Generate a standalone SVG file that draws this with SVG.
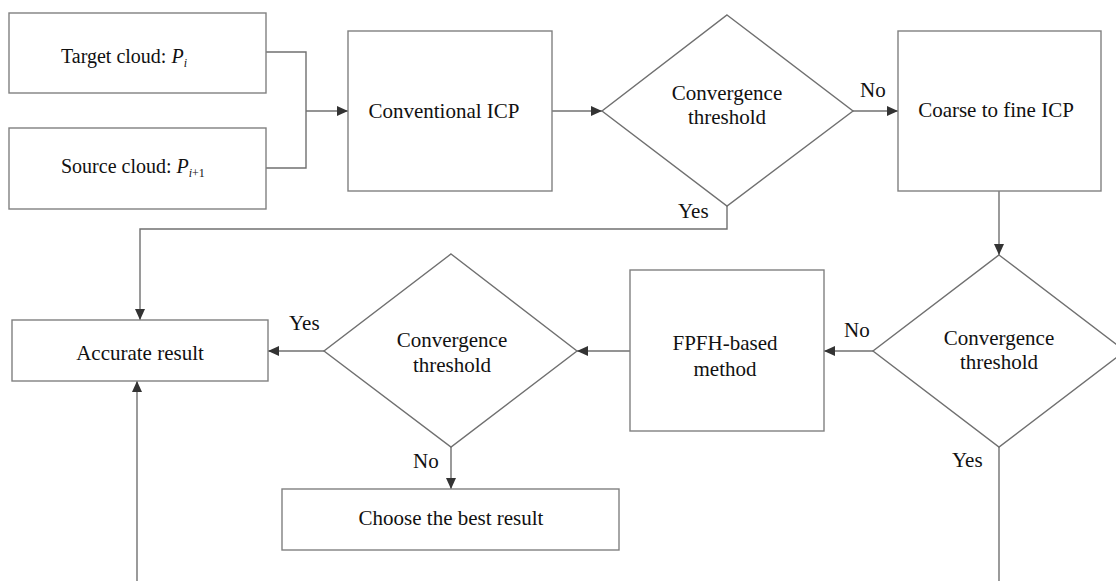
<svg xmlns="http://www.w3.org/2000/svg" width="1116" height="581" viewBox="0 0 1116 581">
<style>
.box{fill:#fff;stroke:#808080;stroke-width:1.4}
.dia{fill:#fff;stroke:#707070;stroke-width:1.4}
.ln{fill:none;stroke:#707070;stroke-width:1.4}
.t{font-family:"Liberation Serif","Times New Roman",serif;font-size:21px;fill:#111}
.s{font-size:20px}
.m{text-anchor:middle}
</style>
<defs>
<marker id="ah" markerUnits="userSpaceOnUse" markerWidth="11" markerHeight="10" refX="11" refY="5" orient="auto">
<path d="M0,0 L11,5 L0,10 Z" fill="#333"/>
</marker>
</defs>
<rect width="1116" height="581" fill="#fff"/>
<g id="connectors">
<path class="ln" d="M266,52 H306 V168 H266"/>
<path class="ln" d="M306,111 H348" marker-end="url(#ah)"/>
<path class="ln" d="M552,111 H602" marker-end="url(#ah)"/>
<path class="ln" d="M853,111 H898" marker-end="url(#ah)"/>
<path class="ln" d="M727,206 V229 H140 V320" marker-end="url(#ah)"/>
<path class="ln" d="M999,191 V255" marker-end="url(#ah)"/>
<path class="ln" d="M873,351 H824" marker-end="url(#ah)"/>
<path class="ln" d="M630,351 H577" marker-end="url(#ah)"/>
<path class="ln" d="M324,351 H268" marker-end="url(#ah)"/>
<path class="ln" d="M451,447 V489" marker-end="url(#ah)"/>
<path class="ln" d="M999,447 V581"/>
<path class="ln" d="M137,581 V381" marker-end="url(#ah)"/>
<text class="t" x="860" y="97">No</text>
<text class="t" x="678" y="218">Yes</text>
<text class="t" x="844" y="337">No</text>
<text class="t" x="952" y="467">Yes</text>
<text class="t" x="289" y="330">Yes</text>
<text class="t" x="413" y="468">No</text>
</g>
<g id="target">
<rect class="box" x="9" y="13" width="257" height="80"/>
<text class="t s" x="61" y="63">Target cloud: <tspan font-style="italic">P</tspan><tspan font-style="italic" font-size="12" dy="4">i</tspan></text>
</g>
<g id="source">
<rect class="box" x="9" y="128" width="257" height="81"/>
<text class="t s" x="61" y="173">Source cloud: <tspan font-style="italic">P</tspan><tspan font-size="12" dy="4"><tspan font-style="italic">i</tspan>+1</tspan></text>
</g>
<g id="conventional-icp">
<rect class="box" x="348" y="31" width="204" height="160"/>
<text class="t m" x="444" y="118">Conventional ICP</text>
</g>
<g id="decision1">
<polygon class="dia" points="727,15 853,111 727,206 602,111"/>
<text class="t m" x="727" y="100">Convergence</text>
<text class="t m" x="727" y="124">threshold</text>
</g>
<g id="coarse-icp">
<rect class="box" x="898" y="31" width="203" height="160"/>
<text class="t m" x="996" y="117">Coarse to fine ICP</text>
</g>
<g id="decision2">
<polygon class="dia" points="999,255 1125,351 999,447 873,351"/>
<text class="t m" x="999" y="345">Convergence</text>
<text class="t m" x="999" y="369">threshold</text>
</g>
<g id="fpfh">
<rect class="box" x="630" y="270" width="194" height="161"/>
<text class="t m" x="725" y="350">FPFH-based</text>
<text class="t m" x="725" y="376">method</text>
</g>
<g id="decision3">
<polygon class="dia" points="451,254 577,351 451,447 324,351"/>
<text class="t m" x="452" y="347">Convergence</text>
<text class="t m" x="452" y="372">threshold</text>
</g>
<g id="accurate">
<rect class="box" x="12" y="320" width="256" height="61"/>
<text class="t m" x="140" y="360">Accurate result</text>
</g>
<g id="choose-best">
<rect class="box" x="282" y="489" width="337" height="61"/>
<text class="t m" x="451" y="525">Choose the best result</text>
</g>
</svg>
